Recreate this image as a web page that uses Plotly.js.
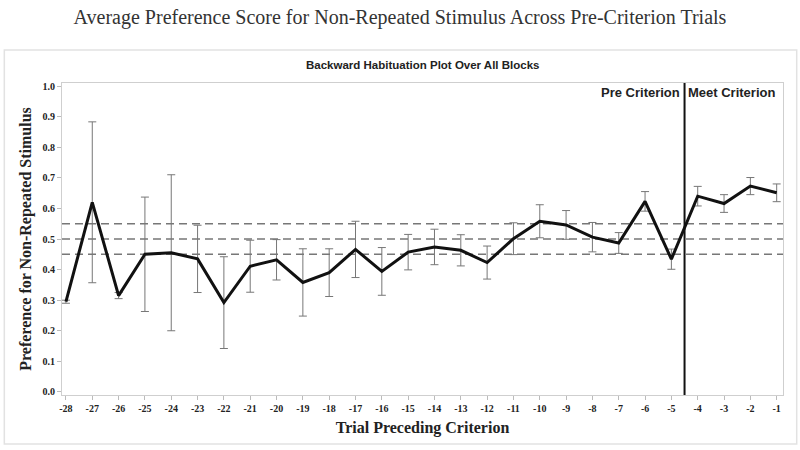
<!DOCTYPE html>
<html>
<head>
<meta charset="utf-8">
<script src="https://cdn.plot.ly/plotly-3.0.1.min.js"></script>
<style>html,body{margin:0;padding:0;background:#fff;}#chart{width:800px;height:450px;}</style>
</head>
<body>
<div id="chart"></div>
<script>
const trials = [-28,-27,-26,-25,-24,-23,-22,-21,-20,-19,-18,-17,-16,-15,-14,-13,-12,-11,-10,-9,-8,-7,-6,-5,-4,-3,-2,-1];
const meanPref = [0.295,0.62,0.315,0.45,0.455,0.435,0.292,0.411,0.432,0.358,0.39,0.466,0.394,0.457,0.474,0.463,0.423,0.501,0.558,0.546,0.506,0.487,0.623,0.434,0.64,0.616,0.673,0.651];
const errPref = [0.005,0.263,0.01,0.187,0.255,0.11,0.15,0.085,0.066,0.11,0.078,0.092,0.078,0.058,0.058,0.051,0.054,0.052,0.054,0.047,0.048,0.034,0.032,0.033,0.032,0.029,0.028,0.029];
const refLevels = [0.45,0.5,0.55];
const criterionX = -4.5;
const yTicks = [0,0.1,0.2,0.3,0.4,0.5,0.6,0.7,0.8,0.9,1.0];

const traces = [{
  x: trials, y: meanPref, type: 'scatter', mode: 'lines',
  line: {color: '#111', width: 3},
  error_y: {type: 'data', array: errPref, visible: true, color: '#777', thickness: 1, width: 4},
  hoverinfo: 'skip'
}];

const shapes = refLevels.map(v => ({
  type: 'line', xref: 'paper', x0: 0, x1: 1, yref: 'y', y0: v, y1: v,
  line: {color: '#777', width: 1.5, dash: '8px,5px'}, layer: 'below'
}));
shapes.push({type: 'line', xref: 'x', x0: criterionX, x1: criterionX, yref: 'paper', y0: 0, y1: 1,
  line: {color: '#111', width: 2}});
shapes.push({type: 'rect', xref: 'paper', yref: 'paper', x0: -0.080, x1: 1.019, y0: -0.157, y1: 1.106,
  line: {color: '#e2e2e2', width: 1.5}, fillcolor: 'rgba(0,0,0,0)', layer: 'below'});

const layout = {
  width: 800, height: 450,
  margin: {l: 62, r: 17, t: 83, b: 55},
  paper_bgcolor: '#fff', plot_bgcolor: '#fff',
  showlegend: false,
  title: {text: 'Average Preference Score for Non-Repeated Stimulus Across Pre-Criterion Trials',
    font: {family: 'Liberation Serif, Times New Roman, serif', size: 20, color: '#333'},
    x: 0.5, xanchor: 'center', y: 0.962, yanchor: 'middle', yref: 'container'},
  xaxis: {
    range: [-28.15, -0.76], tickvals: trials, ticktext: trials.map(String),
    showgrid: false, zeroline: false, showline: true, mirror: true, linecolor: '#cfcfcf', linewidth: 1,
    ticks: 'outside', ticklen: 4, tickcolor: '#bbb',
    tickfont: {family: 'Liberation Serif, Times New Roman, serif', size: 10, color: '#222', weight: 'bold'},
    title: {text: '<b>Trial Preceding Criterion</b>', standoff: 8,
      font: {family: 'Liberation Serif, Times New Roman, serif', size: 16, color: '#222'}}
  },
  yaxis: {
    range: [-0.01, 1.01], tickvals: yTicks, ticktext: yTicks.map(v => v.toFixed(1)),
    showgrid: false, zeroline: false, showline: true, mirror: true, linecolor: '#cfcfcf', linewidth: 1,
    ticks: 'outside', ticklen: 4, tickcolor: '#bbb',
    tickfont: {family: 'Liberation Serif, Times New Roman, serif', size: 10, color: '#222', weight: 'bold'},
    title: {text: '<b>Preference for Non-Repeated Stimulus</b>', standoff: 6,
      font: {family: 'Liberation Serif, Times New Roman, serif', size: 16, color: '#222'}}
  },
  shapes: shapes,
  annotations: [
    {text: '<b>Backward Habituation Plot Over All Blocks</b>', xref: 'paper', yref: 'paper', x: 0.5, y: 1.058,
      showarrow: false, font: {family: 'Liberation Sans, Arial, sans-serif', size: 11.5, color: '#222'}, xanchor: 'center', yanchor: 'middle'},
    {text: '<b>Pre Criterion</b>', xref: 'x', yref: 'paper', x: criterionX, y: 1.0, xshift: -3,
      showarrow: false, font: {family: 'Liberation Sans, Arial, sans-serif', size: 13, color: '#222'}, xanchor: 'right', yanchor: 'top'},
    {text: '<b>Meet Criterion</b>', xref: 'x', yref: 'paper', x: criterionX, y: 1.0, xshift: 1,
      showarrow: false, font: {family: 'Liberation Sans, Arial, sans-serif', size: 13, color: '#222'}, xanchor: 'left', yanchor: 'top'}
  ]
};

Plotly.newPlot('chart', traces, layout, {displayModeBar: false, staticPlot: true});
</script>
</body>
</html>
